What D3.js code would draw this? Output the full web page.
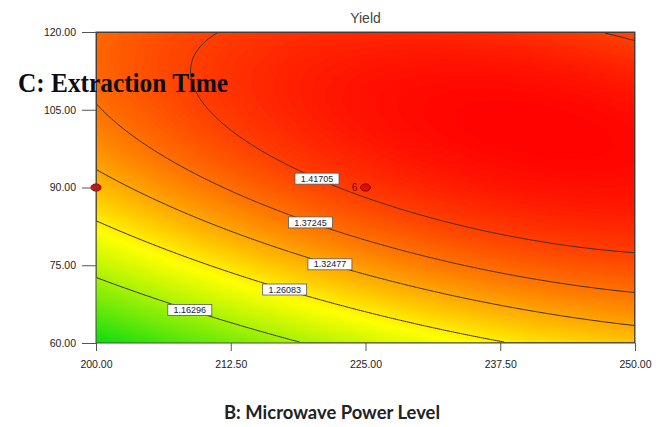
<!DOCTYPE html>
<html><head><meta charset="utf-8">
<script src="https://cdn.jsdelivr.net/npm/d3@7"></script>
<style>body{margin:0;background:#fff}</style>
</head><body><svg id="chart" width="661" height="427"></svg>
<script>
// Fitted quadratic response surface for Yield, in coded units
// b = (B - 225) / 25, c = (C - 90) / 30
const modelTerms = ["Intercept", "B", "C", "BC", "B^2", "C^2"];
const modelCoef  = [1.42525, 0.07739, 0.11977, -0.06333, -0.04297, -0.10757];

// contour levels shown on the plot, with the B value where each label sits
const contourLevels = [1.16296, 1.26083, 1.32477, 1.37245, 1.41705];
const labelAtB      = [208.7, 217.5, 221.7, 219.9, 220.5];

// axes
const powerRange = [200, 250];
const timeRange  = [60, 120];
const powerTicks = [200, 212.5, 225, 237.5, 250];
const timeTicks  = [60, 75, 90, 105, 120];

// design points: [B, C, replicates]
const designPoints = [[200, 90, 1], [225, 90, 6]];

const margin = {left: 96, right: 26, top: 32, bottom: 84};
const W = 661, H = 427;
const pw = W - margin.left - margin.right, ph = H - margin.top - margin.bottom;

const svg = d3.select("#chart");
const g = svg.append("g").attr("transform", `translate(${margin.left},${margin.top})`);

const x = d3.scaleLinear().domain(powerRange).range([0, pw]);
const y = d3.scaleLinear().domain(timeRange).range([ph, 0]);

function yieldAt(B, C) {
  const b = (B - 225) / 25, c = (C - 90) / 30;
  const terms = [1, b, c, b * c, b * b, c * c];
  return d3.sum(terms, (t, i) => t * modelCoef[i]);
}

// sample the surface on a grid
const nx = 270, ny = 156;
const grid = new Array(nx * ny);
for (let j = 0; j < ny; j++)
  for (let i = 0; i < nx; i++)
    grid[j * nx + i] = yieldAt(x.invert((i + 0.5) * pw / nx), y.invert((j + 0.5) * ph / ny));

const vmin = d3.min(grid), vmax = d3.max(grid);
const color = d3.scaleLinear()
  .domain([vmin, (vmin + vmax) / 2, vmax])
  .range(["#10dc10", "#ffff00", "#ff0000"]);

const toPlot = d3.geoTransform({
  point(px, py) { this.stream.point(px * pw / nx, py * ph / ny); }
});
const path = d3.geoPath(toPlot);

g.append("defs").append("clipPath").attr("id", "plotClip")
  .append("rect").attr("width", pw).attr("height", ph);

const plot = g.append("g").attr("clip-path", "url(#plotClip)");

// smooth colour fill from many thin bands
plot.append("rect").attr("width", pw).attr("height", ph).attr("fill", color(vmin));
const bands = d3.range(vmin, vmax, (vmax - vmin) / 160);
plot.append("g").selectAll("path")
  .data(d3.contours().size([nx, ny]).thresholds(bands)(grid))
  .join("path")
  .attr("d", path)
  .attr("fill", d => color(d.value))
  .attr("stroke", d => color(d.value))
  .attr("stroke-width", 0.6);

// contour lines
plot.append("g").selectAll("path")
  .data(d3.contours().size([nx, ny]).thresholds(contourLevels)(grid))
  .join("path")
  .attr("d", path)
  .attr("fill", "none")
  .attr("stroke", "#3a3028")
  .attr("stroke-width", 1);

// contour labels, placed where each level crosses the given B
function timeOnLevel(B, level) {
  const lo = timeRange[0], hi = timeRange[1], steps = 240;
  let prev = yieldAt(B, lo) - level;
  for (let k = 1; k <= steps; k++) {
    const C = lo + (hi - lo) * k / steps;
    const cur = yieldAt(B, C) - level;
    if (prev <= 0 && cur > 0) {
      let a = C - (hi - lo) / steps, b = C;
      for (let it = 0; it < 30; it++) {
        const m = (a + b) / 2;
        if (yieldAt(B, m) - level > 0) b = m; else a = m;
      }
      return (a + b) / 2;
    }
    prev = cur;
  }
  return null;
}

const labels = g.append("g").selectAll("g")
  .data(contourLevels.map((lv, i) => ({lv, B: labelAtB[i], C: timeOnLevel(labelAtB[i], lv)})))
  .join("g")
  .attr("transform", d => `translate(${x(d.B)},${y(d.C)})`);
labels.append("rect")
  .attr("x", -22).attr("y", -5.5).attr("width", 44).attr("height", 11)
  .attr("fill", "#fff").attr("stroke", "#5a5a5a").attr("stroke-width", 0.8);
labels.append("text")
  .attr("text-anchor", "middle").attr("dy", "0.35em")
  .attr("font-family", "Liberation Sans, Arial, sans-serif")
  .attr("font-size", 9).attr("fill", "#22223a")
  .text(d => d.lv.toFixed(5));

// design points
const pts = g.append("g").selectAll("g").data(designPoints).join("g")
  .attr("transform", d => `translate(${x(d[0])},${y(d[1])})`);
pts.append("ellipse").attr("rx", 5).attr("ry", 3.6)
  .attr("fill", "#e00a0a").attr("stroke", "#8a0000").attr("stroke-width", 1);
pts.filter(d => d[2] > 1).append("text")
  .attr("x", -11).attr("dy", "0.35em").attr("text-anchor", "middle")
  .attr("font-family", "Liberation Sans, Arial, sans-serif")
  .attr("font-size", 10).attr("fill", "#7a0000")
  .text(d => d[2]);

// plot frame
g.append("rect").attr("width", pw).attr("height", ph)
  .attr("fill", "none").attr("stroke", "#4a4a4a").attr("stroke-width", 1);

// axes
const fmt = d3.format(".2f");
const yAxis = g.append("g")
  .call(d3.axisLeft(y).tickValues(timeTicks).tickFormat(fmt).tickSize(14).tickPadding(6));
const xAxis = g.append("g").attr("transform", `translate(0,${ph})`)
  .call(d3.axisBottom(x).tickValues(powerTicks).tickFormat(fmt).tickSize(8).tickPadding(10));
[xAxis, yAxis].forEach(a => {
  a.select(".domain").remove();
  a.selectAll(".tick line").attr("stroke", "#555");
  a.selectAll(".tick text")
    .attr("font-family", "Liberation Sans, Arial, sans-serif")
    .attr("font-size", 10.5).attr("fill", "#222");
});

// titles
svg.append("text")
  .attr("x", margin.left + pw / 2).attr("y", 23)
  .attr("text-anchor", "middle")
  .attr("font-family", "Liberation Sans, Arial, sans-serif")
  .attr("font-size", 14).attr("fill", "#444")
  .text("Yield");

svg.append("text")
  .attr("x", 18).attr("y", 92)
  .attr("font-family", "Liberation Serif, Times New Roman, serif")
  .attr("font-weight", "bold").attr("font-size", 27)
  .attr("textLength", 210).attr("lengthAdjust", "spacingAndGlyphs")
  .attr("fill", "#0c0c18")
  .text("C: Extraction Time");

svg.append("text")
  .attr("x", 224).attr("y", 419)
  .attr("font-family", "Lato, Open Sans, sans-serif")
  .attr("font-weight", "bold").attr("font-size", 18)
  .attr("textLength", 216).attr("lengthAdjust", "spacingAndGlyphs")
  .attr("fill", "#222")
  .text("B: Microwave Power Level");
</script></body></html>
